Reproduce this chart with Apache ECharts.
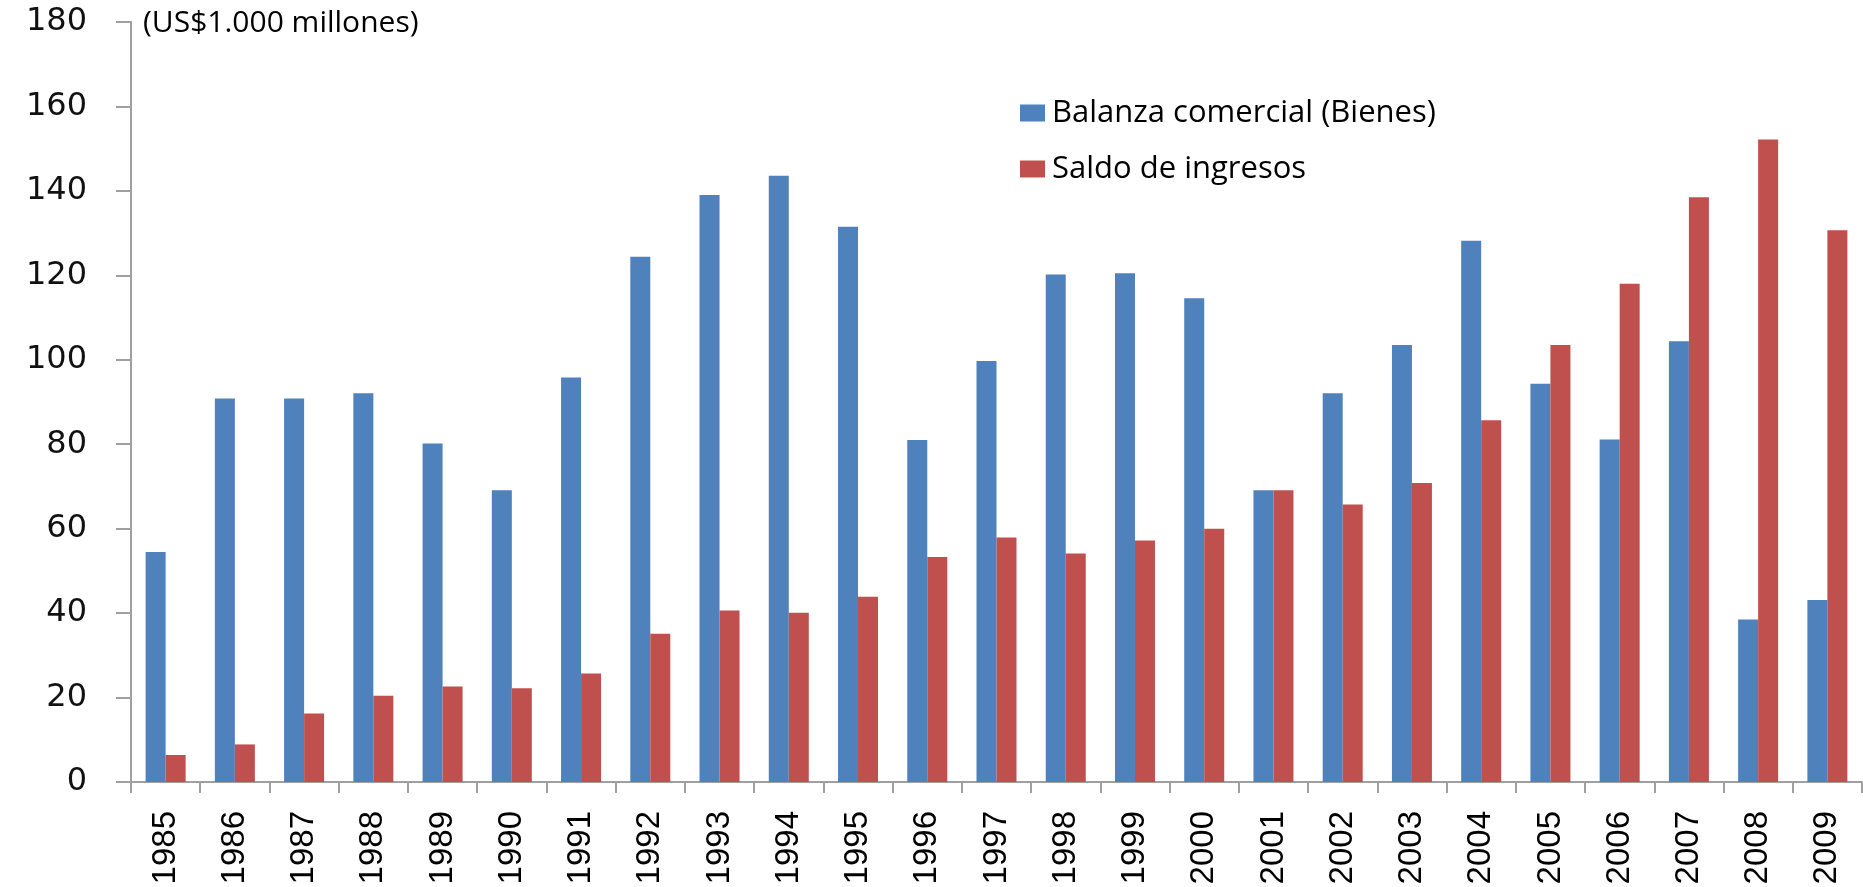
<!DOCTYPE html>
<html>
<head>
<meta charset="utf-8">
<script src="https://cdn.jsdelivr.net/npm/echarts@6/dist/echarts.min.js"></script>
<style>
html,body{margin:0;padding:0;background:#fff;}
#chart{width:1863px;height:887px;}
</style>
</head>
<body>
<div id="chart"></div>
<script>
const years = ['1985','1986','1987','1988','1989','1990','1991','1992','1993','1994','1995','1996','1997','1998','1999','2000','2001','2002','2003','2004','2005','2006','2007','2008','2009'];
const balanzaComercial = [54.5, 90.8, 90.8, 92.1, 80.2, 69.1, 95.8, 124.4, 139.0, 143.6, 131.5, 81.0, 99.7, 120.2, 120.5, 114.6, 69.1, 92.1, 103.5, 128.2, 94.3, 81.1, 104.4, 38.5, 43.1];
const saldoIngresos = [6.4, 8.9, 16.2, 20.4, 22.6, 22.2, 25.7, 35.1, 40.6, 40.1, 43.9, 53.3, 57.9, 54.1, 57.2, 60.0, 69.1, 65.7, 70.8, 85.7, 103.5, 118.0, 138.5, 152.2, 130.7];
const seriesNames = ['Balanza comercial (Bienes)', 'Saldo de ingresos'];
const unitLabel = '(US$1.000 millones)';
const yMin = 0, yMax = 180, yStep = 20;

const chart = echarts.init(document.getElementById('chart'), null, {renderer: 'canvas'});
chart.setOption({
  animation: false,
  backgroundColor: '#ffffff',
  title: {
    text: unitLabel,
    left: 138, top: 3,
    textStyle: {fontFamily: 'Open Sans', fontSize: 30, fontWeight: 'normal', color: '#000'}
  },
  legend: {
    orient: 'vertical',
    left: 1015, top: 92,
    padding: [5, 5, 5, 5],
    itemWidth: 25, itemHeight: 17,
    itemGap: 24,
    icon: 'rect',
    textStyle: {fontFamily: 'Open Sans', fontSize: 31, color: '#000', lineHeight: 32, padding: [0,0,0,2]},
    data: seriesNames
  },
  grid: {left: 131, right: 1, top: 22, bottom: 105, containLabel: false, outerBoundsMode: 'none'},
  xAxis: {
    type: 'category',
    data: years,
    boundaryGap: true,
    axisLine: {lineStyle: {color: '#a0a0a0', width: 2}},
    axisTick: {show: true, interval: 0, length: 11, lineStyle: {color: '#a0a0a0', width: 2}},
    axisLabel: {
      interval: 0, rotate: 90, margin: 29,
      fontFamily: "'Liberation Sans', Arial",
      fontSize: 33, color: '#000'
    },
    splitLine: {show: false}
  },
  yAxis: {
    type: 'value',
    min: yMin, max: yMax, interval: yStep,
    axisLine: {show: true, lineStyle: {color: '#a0a0a0', width: 2}},
    axisTick: {show: true, length: 15, lineStyle: {color: '#a0a0a0', width: 2}},
    axisLabel: {margin: 44, fontFamily: 'DejaVu Sans', fontSize: 32, color: '#111'},
    splitLine: {show: false}
  },
  series: [
    {
      name: seriesNames[0], type: 'bar', data: balanzaComercial,
      barWidth: 20, barGap: '0%',
      itemStyle: {color: '#4F81BD'}
    },
    {
      name: seriesNames[1], type: 'bar', data: saldoIngresos,
      barWidth: 20, barGap: '0%',
      itemStyle: {color: '#C0504D'}
    }
  ]
});
</script>
</body>
</html>
